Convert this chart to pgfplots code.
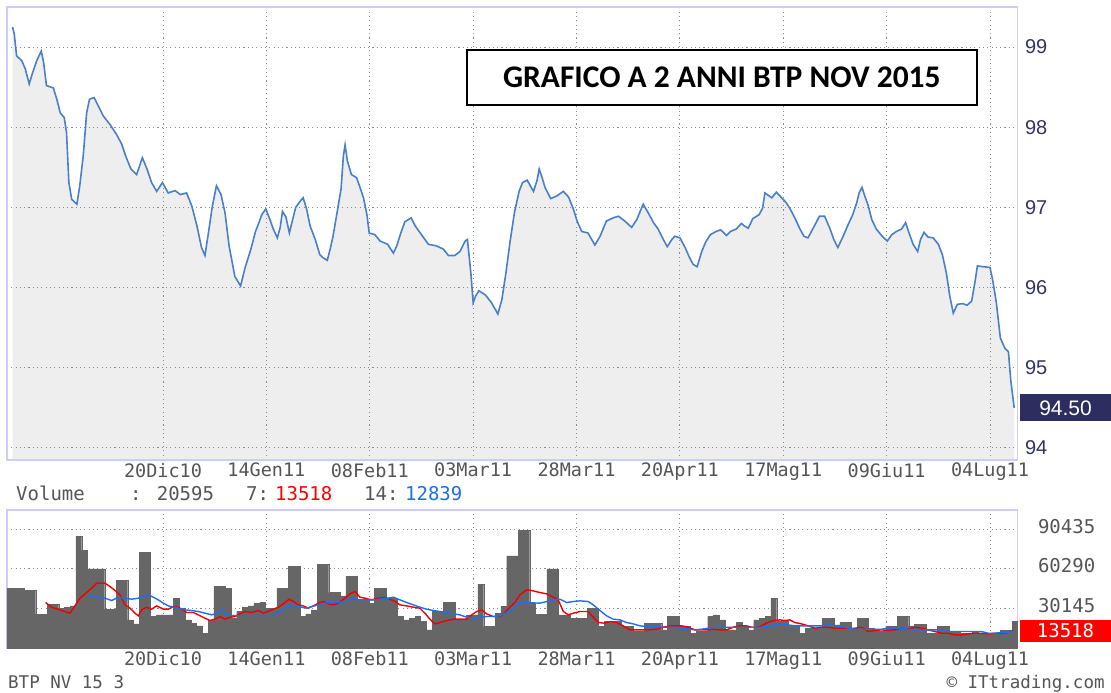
\documentclass[border=0pt]{standalone}
\usepackage{fontspec}
\usepackage{pgfplots}
\pgfplotsset{compat=1.18}
\usepackage{pgfplotstable}
\newfontfamily\monofont{DejaVu Sans Mono}
\newfontfamily\lsans{Liberation Sans}
\newfontfamily\carlito{Carlito}
\definecolor{lav}{RGB}{204,204,255}
\definecolor{gridc}{RGB}{140,140,140}
\definecolor{fillc}{RGB}{238,238,238}
\definecolor{pline}{RGB}{74,128,200}
\definecolor{navy}{RGB}{51,51,102}
\definecolor{navybox}{RGB}{45,45,95}
\definecolor{txtgrey}{RGB}{85,85,85}
\definecolor{bargrey}{RGB}{102,102,102}
\definecolor{mared}{RGB}{240,0,0}
\definecolor{mablue}{RGB}{30,110,240}

\pgfplotstableread{
d p
-0.2 99.25
0.1 99.16
0.5 98.89
1.4 98.83
2.0 98.73
2.7 98.54
3.2 98.66
4.0 98.83
4.8 98.95
5.2 98.81
5.7 98.52
6.9 98.49
7.5 98.35
8.1 98.18
8.8 98.12
9.2 97.93
9.6 97.31
10.1 97.10
11.0 97.04
11.5 97.27
12.1 97.64
12.7 98.18
13.2 98.35
14.0 98.37
14.7 98.27
15.6 98.14
16.8 98.03
17.9 97.91
18.8 97.79
19.5 97.64
20.4 97.48
21.4 97.41
22.4 97.62
23.2 97.48
24.0 97.31
24.9 97.20
25.9 97.31
26.9 97.18
28.1 97.21
29.0 97.16
30.1 97.18
31.0 97.02
31.9 96.77
32.7 96.50
33.3 96.40
33.9 96.68
34.6 97.02
35.3 97.27
36.1 97.16
36.8 96.93
37.5 96.52
38.5 96.14
39.5 96.02
40.3 96.25
41.3 96.48
42.1 96.70
42.6 96.79
43.2 96.91
43.9 96.98
44.6 96.85
45.2 96.73
45.9 96.62
46.4 96.75
46.8 96.95
47.4 96.88
48.0 96.68
48.5 96.83
49.1 97.00
49.8 97.07
50.4 97.12
51.0 96.98
51.6 96.77
52.5 96.60
53.3 96.41
53.9 96.37
54.6 96.34
55.1 96.48
55.6 96.64
56.1 96.85
56.5 97.02
57.0 97.23
57.4 97.64
57.7 97.78
58.1 97.58
58.8 97.41
59.7 97.37
60.3 97.25
60.9 97.12
61.5 96.91
61.9 96.68
62.9 96.66
63.8 96.58
65.1 96.54
66.1 96.43
66.7 96.52
67.4 96.68
68.1 96.82
69.2 96.87
69.9 96.77
71.0 96.66
72.2 96.54
73.6 96.52
74.8 96.48
75.7 96.40
76.8 96.40
77.7 96.45
78.6 96.58
79.0 96.60
79.3 96.39
79.6 96.18
80.0 95.81
80.4 95.89
81.0 95.96
82.1 95.91
83.2 95.81
84.3 95.67
85.0 95.85
85.7 96.18
86.4 96.56
87.2 96.94
88.0 97.20
88.6 97.31
89.4 97.34
90.5 97.20
91.1 97.33
91.5 97.48
92.1 97.35
92.5 97.25
93.5 97.11
94.5 97.14
95.7 97.20
96.6 97.13
97.4 96.99
98.1 96.83
98.9 96.70
100.0 96.68
101.2 96.53
102.1 96.64
103.2 96.83
104.4 96.87
105.3 96.89
106.4 96.83
107.6 96.75
108.5 96.85
109.6 97.04
110.5 96.93
111.4 96.81
112.2 96.73
113.1 96.60
113.8 96.51
114.6 96.60
115.1 96.64
116.0 96.62
116.9 96.50
117.7 96.37
118.3 96.29
119.0 96.26
119.8 96.45
120.5 96.57
121.3 96.66
122.3 96.70
123.1 96.72
124.1 96.65
124.8 96.70
125.8 96.73
126.7 96.80
127.2 96.77
127.9 96.74
128.7 96.86
129.8 96.91
130.4 96.99
130.8 97.18
131.2 97.16
132.0 97.12
132.8 97.19
133.7 97.12
134.5 97.06
135.2 96.98
136.0 96.87
136.9 96.73
137.6 96.64
138.3 96.62
139.2 96.74
140.3 96.89
141.2 96.89
142.1 96.74
142.8 96.60
143.5 96.50
144.3 96.62
145.2 96.77
146.1 96.91
146.8 97.06
147.2 97.18
147.7 97.25
148.2 97.14
148.8 97.02
149.4 96.85
150.2 96.73
151.1 96.65
152.1 96.58
152.9 96.66
153.7 96.70
154.6 96.73
155.3 96.81
155.9 96.68
156.6 96.54
157.4 96.45
157.9 96.60
158.5 96.69
159.2 96.63
160.1 96.62
161.0 96.54
161.7 96.41
162.4 96.18
163.0 95.89
163.6 95.68
164.3 95.79
165.2 95.80
166.0 95.78
166.8 95.83
167.4 96.08
167.8 96.27
168.8 96.26
170.0 96.25
170.5 96.08
171.1 95.81
171.8 95.37
172.6 95.24
173.2 95.20
173.6 94.85
174.2 94.50
}\pricedata

\pgfplotstableread{
k v
0 45650
1 45650
2 45650
3 43880
4 43880
5 25920
6 25920
7 33510
8 33510
9 30470
10 31230
11 32240
12 84850
13 74230
14 60320
15 60320
16 60320
17 29720
18 29720
19 51460
20 51460
21 21620
22 18590
23 72710
24 72710
25 24150
26 25420
27 25420
28 25420
29 37810
30 30470
31 21620
32 19090
33 17070
34 11510
35 21620
36 46910
37 46910
38 45650
39 22890
40 27950
41 31230
42 32240
43 34270
44 34770
45 30470
46 30470
47 45400
48 45400
49 62090
50 62090
51 24150
52 26180
53 29210
54 63860
55 63860
56 42360
57 42360
58 39830
59 54500
60 54500
61 36800
62 36800
63 34270
64 45650
65 45650
66 38060
67 38060
68 24150
69 21620
70 22890
71 24150
72 20360
73 14040
74 27950
75 27950
76 34770
77 34770
78 21620
79 21620
80 25420
81 25420
82 48680
83 16560
84 16560
85 26680
86 31740
87 70180
88 70180
89 89400
90 89400
91 34270
92 25920
93 25920
94 60320
95 60320
96 25420
97 25420
98 22890
99 22890
100 22890
101 30470
102 30470
103 16560
104 20360
105 20360
106 20360
107 16560
108 16560
109 12770
110 12770
111 19090
112 19090
113 19090
114 14040
115 24150
116 24150
117 17070
118 16560
119 11510
120 12770
121 12770
122 24150
123 25420
124 21620
125 14040
126 14040
127 19600
128 17070
129 14040
130 21620
131 22630
132 24150
133 38060
134 20360
135 20360
136 17070
137 17070
138 11510
139 15300
140 15300
141 15300
142 22630
143 22630
144 17830
145 19600
146 19600
147 15300
148 22630
149 22630
150 15300
151 12770
152 12770
153 16560
154 16560
155 24150
156 24150
157 17070
158 18080
159 18080
160 11510
161 11510
162 16560
163 16560
164 12770
165 12770
166 11510
167 11510
168 12010
169 11000
170 11000
171 11510
172 11510
173 13530
174 13530
175 20595
}\voldata

\pgfplotsset{
  priceax/.style={
    at={(7pt,233pt)}, anchor=south west, scale only axis,
    width=1011pt, height=453pt,
    xmin=-1.17, xmax=174.84, ymin=93.85, ymax=99.5,
  },
}

\begin{document}
\begin{tikzpicture}
\fill[white] (0pt,0pt) rectangle (1111pt,693pt);
% ---------- price panel: grey area (drawn first, under the grid) ----------
\begin{axis}[priceax, hide axis]
\addplot[fill=fillc, draw=none] table[x=d,y=p] {\pricedata} \closedcycle;
\end{axis}
% ---------- price panel: grid, labels, line ----------
\begin{axis}[
  priceax,
  axis line style={draw=lav, line width=1.2pt},
  major tick length=0pt,
  xtick={26,44,...,170},
  xticklabels={20Dic10,14Gen11,08Feb11,03Mar11,28Mar11,20Apr11,17Mag11,09Giu11,04Lug11},
  xticklabel style={font=\monofont\fontsize{18.5}{18.5}\selectfont, text=txtgrey, anchor=north, inner sep=0pt, yshift=-3pt},
  ytick={94,95,96,97,98,99}, yticklabels={94,95,96,97,98,99},
  yticklabel pos=right,
  yticklabel style={font=\lsans\fontsize{20}{20}\selectfont, text=navy, anchor=west, inner sep=0pt, xshift=7pt},
  grid=major,
  major grid style={draw=gridc, line width=1pt, dash pattern=on 1.1pt off 3.2pt},
]
\addplot[pline, line width=1.6pt] table[x=d,y=p] {\pricedata};
\coordinate (last) at (axis cs:174.84,94.5);
\end{axis}
% ---------- volume panel ----------
\begin{axis}[
  at={(7pt,44.5pt)}, anchor=south west, scale only axis,
  width=1011pt, height=138.5pt,
  xmin=-0.5, xmax=175.5, ymin=0, ymax=105000,
  axis line style={draw=lav, line width=1.2pt},
  major tick length=0pt,
  scaled y ticks=false,
  xtick={26.67,44.67,62.67,80.67,98.67,116.67,134.67,152.67,170.67},
  xticklabels={20Dic10,14Gen11,08Feb11,03Mar11,28Mar11,20Apr11,17Mag11,09Giu11,04Lug11},
  xticklabel style={font=\monofont\fontsize{18.5}{18.5}\selectfont, text=txtgrey, anchor=north, inner sep=0pt, yshift=-3pt},
  ytick={30145,60290,90435}, yticklabels={30145,60290,90435},
  yticklabel pos=right,
  yticklabel style={font=\monofont\fontsize{19}{19}\selectfont, text=txtgrey, anchor=west, inner sep=0pt, xshift=20pt, yshift=3pt},
  grid=major,
  major grid style={draw=gridc, line width=1pt, dash pattern=on 1.1pt off 3.2pt},
]
\addplot[ybar, bar width=1, fill=bargrey, draw=bargrey, line width=0.2pt] table[x=k,y=v] {\voldata};
\addplot[mared, line width=1.4pt] coordinates {
(6.23,34770) (7.28,31230) (9.02,28700) (10.47,26680) (11.05,30470) (12.21,38060) (13.37,42360) (14.24,45650) (15.11,49440) (16.56,49440) (17.43,46910) (18.30,43880) (19.17,40590) (20.04,33000) (20.91,30470) (21.78,26680) (22.37,24660) (22.95,29210) (23.82,31230) (24.69,29720) (25.56,32240) (26.72,29720) (27.59,29720) (28.46,31740) (29.33,31230) (29.91,29720) (30.78,27190) (31.94,27190) (32.81,25420) (33.97,22890) (34.84,21120) (35.71,22130) (36.58,24150) (37.46,22130) (38.33,23650) (39.20,24150) (40.07,26180) (40.94,27950) (42.10,27190) (43.26,28700) (44.13,26680) (45.00,27950) (45.87,29720) (46.74,31230) (47.79,34270) (48.60,37300) (49.35,35530) (50.22,33000) (51.09,32240) (51.97,30470) (52.84,32240) (53.71,34270) (54.58,35530) (55.45,33760) (56.32,33000) (57.19,34270) (58.34,38000) (59.21,41350) (60.08,43120) (60.95,38820) (61.82,38060) (62.98,36800) (64.14,38060) (65.31,38570) (66.18,37300) (67.05,35530) (67.92,33000) (69.08,32240) (70.24,31230) (71.40,30470) (72.27,26680) (73.14,22130) (74.01,18590) (74.88,19600) (76.04,21120) (77.20,22130) (79.52,22130) (80.40,25420) (81.27,27950) (82.14,29210) (83.01,26180) (84.17,24150) (85.33,24150) (86.20,27190) (87.07,31230) (87.94,34770) (88.81,40590) (89.97,44380) (90.84,43880) (92.29,42360) (93.45,41350) (94.61,38820) (95.48,36800) (96.36,27950) (97.23,25420) (98.10,26680) (99.26,27950) (100.71,27950) (101.58,23650) (102.45,19600) (103.61,19090) (104.48,20360) (105.64,19600) (106.80,17070) (107.96,14040) (111.45,14040) (112.61,14540) (113.77,16060) (114.93,17070) (115.79,17070) (116.95,17070) (118.11,16060) (119.27,14040) (121.59,14040) (122.46,14540) (123.62,14040) (124.79,14040) (125.95,16060) (127.11,17070) (128.27,17070) (129.14,16060) (130.30,16060) (131.17,17830) (132.33,20360) (133.20,21120) (134.07,21620) (134.94,21120) (135.81,21620) (136.68,19600) (137.84,18590) (139.00,17070) (140.17,15300) (141.33,16060) (142.49,16060) (143.65,15300) (147.13,15300) (148.29,16060) (149.45,12770) (150.61,13530) (151.77,14040) (152.93,13530) (154.10,14040) (155.26,15300) (156.42,14540) (157.58,16060) (158.74,15300) (159.90,14040) (161.06,12770) (162.22,11510) (163.38,11510) (164.54,10240) (165.70,10240) (166.86,11000) (168.03,11510) (169.19,11510) (170.35,11000) (171.51,11510) (172.67,11510) (173.83,12010) (174.70,13518)
};
\addplot[mablue, line width=1.4pt] coordinates {
(13.66,38570) (14.53,39830) (15.40,38820) (16.56,38060) (17.73,36290) (18.89,38820) (20.04,38060) (21.21,37300) (22.37,38060) (23.24,39830) (24.11,40590) (24.98,38820) (25.85,36800) (26.72,34270) (27.59,32240) (28.46,31230) (29.33,30470) (30.49,29210) (31.65,28700) (32.81,27950) (33.97,26680) (35.14,25420) (36.30,27190) (36.99,29210) (37.75,25420) (38.62,24910) (45.58,24910) (46.45,26180) (47.32,28700) (48.19,31230) (49.07,32240) (49.94,32240) (50.81,31230) (51.68,30470) (52.55,31740) (53.71,33000) (54.87,34270) (56.03,34770) (57.19,34770) (58.35,35530) (59.79,38060) (60.95,36800) (63.27,36800) (65.60,37810) (66.76,38820) (67.92,36800) (69.08,34770) (70.24,33000) (71.40,31230) (72.56,29720) (73.72,28700) (74.88,27950) (76.04,27190) (77.20,26180) (78.36,25420) (79.52,23650) (80.69,22890) (81.85,23650) (83.01,24150) (84.17,24150) (85.33,24660) (86.49,27190) (87.65,30470) (88.81,34770) (89.97,34770) (92.29,34270) (93.45,35530) (94.61,36800) (95.78,37300) (96.94,34770) (98.10,35530) (99.26,36040) (100.71,35530) (101.58,33000) (102.74,28700) (103.90,24660) (105.06,22130) (106.22,21620) (107.38,19600) (108.54,18590) (109.71,17070) (110.87,16560) (112.32,16560) (113.77,16060) (115.79,16060) (116.95,15300) (119.27,14040) (120.43,14540) (121.59,15300) (122.76,16060) (130.88,16060) (132.04,16560) (133.20,17830) (134.36,18590) (135.52,17830) (136.68,17070) (141.33,17070) (142.49,18590) (143.65,17070) (144.81,16560) (145.97,15300) (147.13,14540) (151.77,14540) (152.93,15300) (155.26,15300) (156.42,14540) (157.58,14040) (162.22,14040) (163.38,12770) (169.19,12770) (170.35,11510) (171.51,11510) (172.67,12010) (173.83,12010) (174.70,12839)
};
\coordinate (vlast) at (axis cs:175.5,13518);
\end{axis}
% ---------- annotations ----------
\node[fill=navybox, text=white, anchor=west, minimum width=91pt, minimum height=27pt, inner sep=0pt,
      font=\lsans\fontsize{21}{21}\selectfont] at ([xshift=2pt]last) {94.50};
\node[fill=red, text=white, anchor=west, minimum width=91pt, minimum height=22pt, inner sep=0pt,
      font=\monofont\fontsize{19}{19}\selectfont] at ([xshift=2pt]vlast) {13518};
\node[draw=black, line width=1.5pt, fill=white, minimum width=510pt, minimum height=55pt, inner sep=0pt,
      font=\carlito\bfseries\fontsize{31.5}{31.5}\selectfont] at (722pt,615.5pt) {GRAFICO A 2 ANNI BTP NOV 2015};
\begin{scope}[every node/.style={anchor=base west, inner sep=0pt, font=\monofont\fontsize{19}{19}\selectfont, text=txtgrey}]
\node at (16pt,192.3pt) {Volume};
\node at (130pt,192.3pt) {: 20595};
\node at (246pt,192.3pt) {7:};
\node[text=red] at (275pt,192.3pt) {13518};
\node at (364pt,192.3pt) {14:};
\node[text=mablue] at (405pt,192.3pt) {12839};
\end{scope}
\node[anchor=base west, inner sep=0pt, font=\monofont\fontsize{17.5}{17.5}\selectfont, text=txtgrey] at (8pt,4.5pt) {BTP NV 15 3};
\node[anchor=base east, inner sep=0pt, font=\monofont\fontsize{17.5}{17.5}\selectfont, text=txtgrey] at (1105pt,4.5pt) {© ITtrading.com};
\end{tikzpicture}
\end{document}
